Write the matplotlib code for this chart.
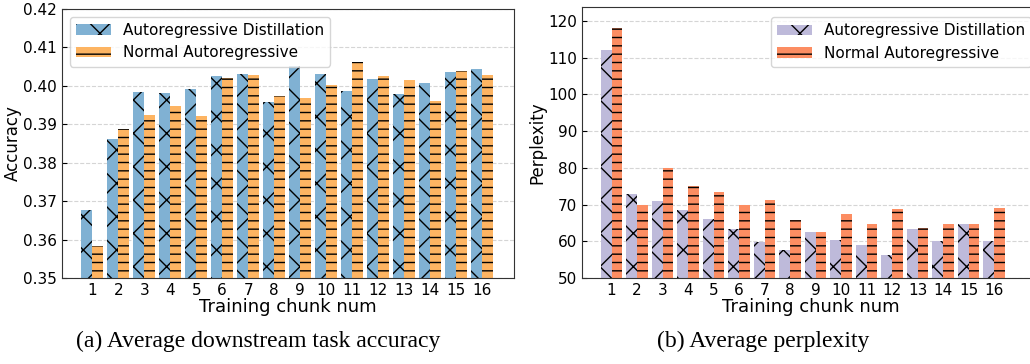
import matplotlib
matplotlib.use("Agg")
import matplotlib.pyplot as plt
import numpy as np

chunks = [str(i) for i in range(1, 17)]

acc_distill = [0.3676, 0.3861, 0.3983, 0.3981, 0.3991, 0.4025, 0.4030, 0.3957,
               0.4052, 0.4030, 0.3986, 0.4017, 0.3978, 0.4007, 0.4036, 0.4043]
acc_normal = [0.3582, 0.3887, 0.3923, 0.3947, 0.3921, 0.4020, 0.4028, 0.3973,
              0.3968, 0.4002, 0.4062, 0.4025, 0.4015, 0.3960, 0.4038, 0.4028]

ppl_distill = [112.1, 72.9, 71.0, 68.5, 66.1, 63.4, 59.9, 57.6,
               62.5, 60.4, 59.0, 56.3, 63.4, 60.0, 64.7, 60.1]
ppl_normal = [118.1, 69.9, 80.0, 75.1, 73.4, 69.9, 71.3, 65.8,
              62.5, 67.4, 64.7, 68.8, 63.6, 64.7, 64.7, 69.1]

labels = ["Autoregressive Distillation", "Normal Autoregressive"]

fig = plt.figure(figsize=(10.30, 3.64), dpi=100)
W, H = 1030.0, 364.0
ax1 = fig.add_axes([62 / W, 1 - 278 / H, (514 - 62) / W, (278 - 9) / H])
ax2 = fig.add_axes([582 / W, 1 - 278 / H, (1040 - 582) / W, (278 - 7) / H])


def draw(ax, a, b, colors, ylabel, ylim, yticks, fmt, xlim):
    x = np.arange(len(chunks))
    w = 0.42
    ax.bar(x - w / 2, a, w, color=colors[0], hatch="x", edgecolor="black",
           linewidth=0, label=labels[0])
    ax.bar(x + w / 2, b, w, color=colors[1], hatch="--", edgecolor="black",
           linewidth=0, label=labels[1])
    ax.set_xticks(x)
    ax.set_xticklabels(chunks)
    ax.set_xlim(*xlim)
    ax.set_ylim(*ylim)
    ax.set_yticks(yticks)
    ax.set_yticklabels([fmt.format(v) for v in yticks])
    ax.tick_params(direction="in", labelsize=11, length=3.5)
    ax.set_ylabel(ylabel, fontsize=12, labelpad=1)
    ax.set_xlabel("Training chunk num", fontsize=13, labelpad=0)
    ax.yaxis.grid(True, linestyle="--", color="#d5d5d5", linewidth=0.8)
    ax.set_axisbelow(True)
    for s in ax.spines.values():
        s.set_color("#333333")


draw(ax1, acc_distill, acc_normal, ["#80B1D3", "#FDB462"], "Accuracy",
     (0.35, 0.42), [0.35, 0.36, 0.37, 0.38, 0.39, 0.40, 0.41, 0.42], "{:.2f}",
     (-1.17, 16.24))
draw(ax2, ppl_distill, ppl_normal, ["#BEBADA", "#FC8D62"], "Perplexity",
     (50, 123.8), [50, 60, 70, 80, 90, 100, 110, 120], "{:d}",
     (-1.16, 16.8))
ax1.legend(loc="upper left", fontsize=11, framealpha=0.8, handlelength=2.3)
ax2.legend(loc="upper left", bbox_to_anchor=(0.395, 0.99), fontsize=11,
           framealpha=0.8, handlelength=2.3)

fig.text(258 / W, 1 - 341 / H, "(a) Average downstream task accuracy",
         ha="center", va="center", family="Liberation Serif", fontsize=17)
fig.text(763 / W, 1 - 341 / H, "(b) Average perplexity",
         ha="center", va="center", family="Liberation Serif", fontsize=17)

fig.savefig("out.png", dpi=100)
